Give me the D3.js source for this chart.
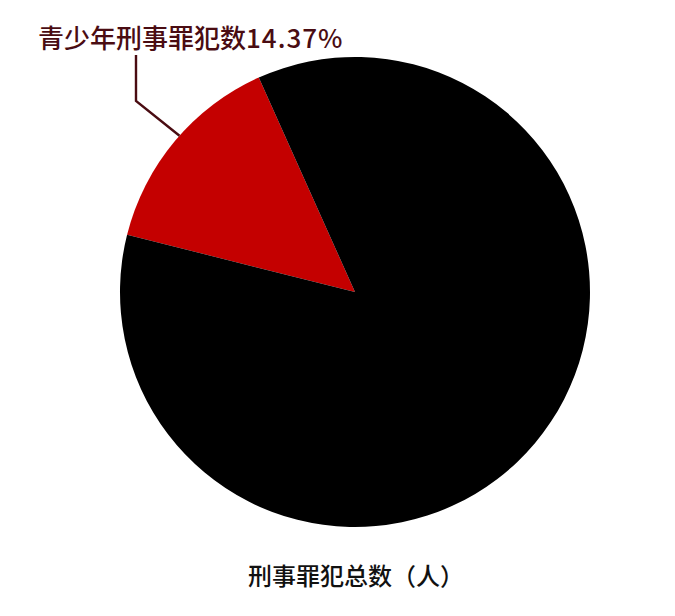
<!DOCTYPE html>
<html>
<head>
<meta charset="utf-8">
<script src="https://cdn.jsdelivr.net/npm/d3@7"></script>
<style>
  html, body { margin: 0; padding: 0; background: #fff; }
  svg { display: block; }
  text { font-family: "Noto Sans CJK SC", "Noto Sans", sans-serif; font-weight: 500; }
</style>
</head>
<body>
<svg id="chart"></svg>
<script>
// data
var categories = ["青少年刑事罪犯数", "其他刑事罪犯数"];
var shares = [14.37, 85.63];
var sliceColors = ["#c40000", "#000000"];
var totalLabel = "刑事罪犯总数（人）";

var width = 675, height = 616;
var cx = 355, cy = 292, r = 235;

var svg = d3.select("#chart")
    .attr("width", width)
    .attr("height", height);

var startDeg = -75.9;
var pie = d3.pie()
    .sort(null)
    .startAngle(startDeg * Math.PI / 180)
    .endAngle(startDeg * Math.PI / 180 + 2 * Math.PI);

var arcs = pie(shares);
var arc = d3.arc().innerRadius(0).outerRadius(r);

var g = svg.append("g").attr("transform", "translate(" + cx + "," + cy + ")");

g.selectAll("path.slice")
    .data(arcs)
    .enter().append("path")
    .attr("class", "slice")
    .attr("d", arc)
    .attr("fill", function(d, i){ return sliceColors[i]; });

// leader line for the small slice
var red = arcs[0];
var mid = (red.startAngle + red.endAngle) / 2 + 0.03;
var ex = cx + r * Math.sin(mid), ey = cy - r * Math.cos(mid);
var lx = 136;
svg.append("polyline")
    .attr("points", [[lx, 55], [lx, 101], [ex, ey]].map(function(p){ return p.join(","); }).join(" "))
    .attr("fill", "none")
    .attr("stroke", "#4a0c12")
    .attr("stroke-width", 2.4);

var lab = svg.append("text")
    .attr("x", 38)
    .attr("y", 48)
    .attr("font-size", 26)
    .attr("fill", "#4a0c12");
lab.append("tspan").text(categories[0]);
lab.append("tspan").text(shares[0] + "%").attr("letter-spacing", 1);

svg.append("text")
    .text(totalLabel)
    .attr("x", 356)
    .attr("y", 585)
    .attr("text-anchor", "middle")
    .attr("font-size", 24)
    .attr("fill", "#111");
</script>
</body>
</html>
